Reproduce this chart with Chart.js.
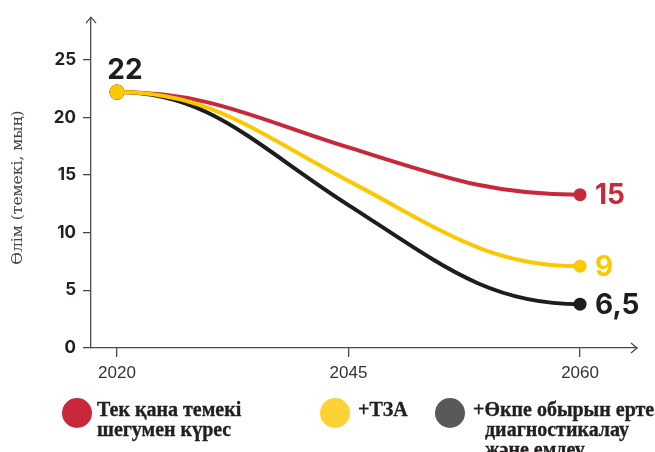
<!DOCTYPE html>
<html>
<head>
<meta charset="utf-8">
<script src="https://cdn.jsdelivr.net/npm/chart.js@4.4.1/dist/chart.umd.min.js"></script>
<style>
  html, body { margin: 0; padding: 0; background: #fff; }
  #wrap { position: relative; width: 655px; height: 452px; overflow: hidden; }
  #chart { position: absolute; left: 0; top: 0; }
  .item { position: absolute; font: bold 20px/20px "Liberation Serif", serif; color: #231f20; -webkit-text-stroke: 0.35px #231f20; }
  .dot { position: absolute; width: 30px; height: 30px; border-radius: 50%; }
</style>
</head>
<body>
<div id="wrap">
  <canvas id="chart" width="655" height="452"></canvas>
  <div class="dot" style="left:62px;top:398px;background:#c8283c"></div>
  <div class="item" style="left:97px;top:399px">Тек қана темекі<br>шегумен күрес</div>
  <div class="dot" style="left:320px;top:398px;background:#fdd235"></div>
  <div class="item" style="left:358px;top:399px">+ТЗА</div>
  <div class="dot" style="left:435px;top:398px;background:#58595b"></div>
  <div class="item" style="left:485px;top:399px;text-indent:-12px">+Өкпе обырын ерте<br>диагностикалау<br>және емдеу</div>
</div>
<script>
const years = ['2020', '2045', '2060'];
const onlyTobacco = [22.2, 17.4, 13.3];
const plusTza = [22.2, 14.5, 7.1];
const plusScreening = [22.2, 12.4, 3.8];
const endLabels = ['15', '9', '6,5'];
const startLabel = '22';
const yTicks = [0, 5, 10, 15, 20, 25];

const colors = ['#c8283c', '#fcc800', '#1d1d1b'];
const axisColor = '#4a4a4a';

// curves leave and arrive flat, and run a bit steeper through the middle
const shapeCurves = {
  id: 'shapeCurves',
  beforeDatasetDraw(chart, args) {
    const meta = args.meta;
    meta.dataset.updateControlPoints(chart.chartArea, meta.iScale.axis);
    const pts = meta.data;
    const n = pts.length;
    pts[0].cp2y = pts[0].y;
    pts[n - 1].cp1y = pts[n - 1].y;
    for (let i = 1; i < n - 1; i++) {
      const p = pts[i];
      p.cp1y = p.y - (p.y - p.cp1y) * 1.4;
      p.cp2y = p.y + (p.cp2y - p.y) * 1.4;
    }
  }
};

const axisArrows = {
  id: 'axisArrows',
  afterDraw(chart) {
    const { ctx, chartArea: a } = chart;
    ctx.save();
    ctx.strokeStyle = axisColor;
    ctx.lineWidth = 1.3;
    ctx.beginPath();
    ctx.moveTo(a.left - 5, a.top + 6);
    ctx.lineTo(a.left, a.top);
    ctx.lineTo(a.left + 5, a.top + 6);
    ctx.moveTo(a.right - 6, a.bottom - 5);
    ctx.lineTo(a.right, a.bottom);
    ctx.lineTo(a.right - 6, a.bottom + 5);
    ctx.stroke();
    ctx.restore();
  }
};

const valueLabels = {
  id: 'valueLabels',
  afterDatasetsDraw(chart) {
    const ctx = chart.ctx;
    ctx.save();
    ctx.font = '700 28px Inter';
    chart.data.datasets.forEach((ds, i) => {
      const pts = chart.getDatasetMeta(i).data;
      const last = pts[pts.length - 1];
      ctx.fillStyle = colors[i];
      ctx.textAlign = 'left';
      ctx.textBaseline = 'middle';
      ctx.fillText(endLabels[i], last.x + 15, last.y + 1);
    });
    const first = chart.getDatasetMeta(0).data[0];
    ctx.fillStyle = colors[2];
    ctx.textAlign = 'center';
    ctx.textBaseline = 'alphabetic';
    ctx.fillText(startLabel, first.x + 8, first.y - 13);
    ctx.restore();
  }
};

function series(label, values, color, order) {
  return {
    label: label,
    data: values.map((v, i) => ({ x: i, y: v })),
    borderColor: color,
    backgroundColor: color,
    borderWidth: 4,
    tension: 0.4,
    pointRadius: [7.5, 0, 6.5],
    pointBorderWidth: 0,
    order: order
  };
}

new Chart(document.getElementById('chart'), {
  type: 'line',
  data: {
    datasets: [
      series('Тек қана темекі шегумен күрес', onlyTobacco, colors[0], 2),
      series('+ТЗА', plusTza, colors[1], 1),
      series('+Өкпе обырын ерте диагностикалау және емдеу', plusScreening, colors[2], 3)
    ]
  },
  options: {
    responsive: false,
    animation: false,
    layout: { padding: { top: 15, right: 18, left: 0, bottom: 0 } },
    plugins: { legend: { display: false }, tooltip: { enabled: false } },
    scales: {
      x: {
        type: 'linear',
        min: -0.112,
        max: 2.246,
        afterBuildTicks: (scale) => { scale.ticks = years.map((y, i) => ({ value: i })); },
        afterFit: (scale) => { scale.height = 104; },
        ticks: {
          callback: (v) => years[v],
          color: '#333',
          padding: 6,
          font: { family: 'Liberation Sans', size: 17 }
        },
        grid: { drawOnChartArea: false, color: axisColor, lineWidth: 1.3, tickLength: 9 },
        border: { color: axisColor, width: 1.3 }
      },
      y: {
        min: 0,
        max: 28.7,
        afterBuildTicks: (scale) => { scale.ticks = yTicks.map(v => ({ value: v })); },
        afterFit: (scale) => { scale.width = 91; },
        ticks: {
          color: '#231f20',
          padding: 7,
          font: { family: 'Inter', size: 17, weight: '700' }
        },
        grid: { drawOnChartArea: false, color: axisColor, lineWidth: 1.3, tickLength: 8 },
        border: { color: axisColor, width: 1.3 },
        title: {
          display: true,
          text: 'Өлім (темекі, мың)  ',
          color: '#444',
          padding: { top: 9, bottom: 0 },
          font: { family: 'DejaVu Serif', size: 15.5 }
        }
      }
    }
  },
  plugins: [shapeCurves, axisArrows, valueLabels]
});
</script>
</body>
</html>
